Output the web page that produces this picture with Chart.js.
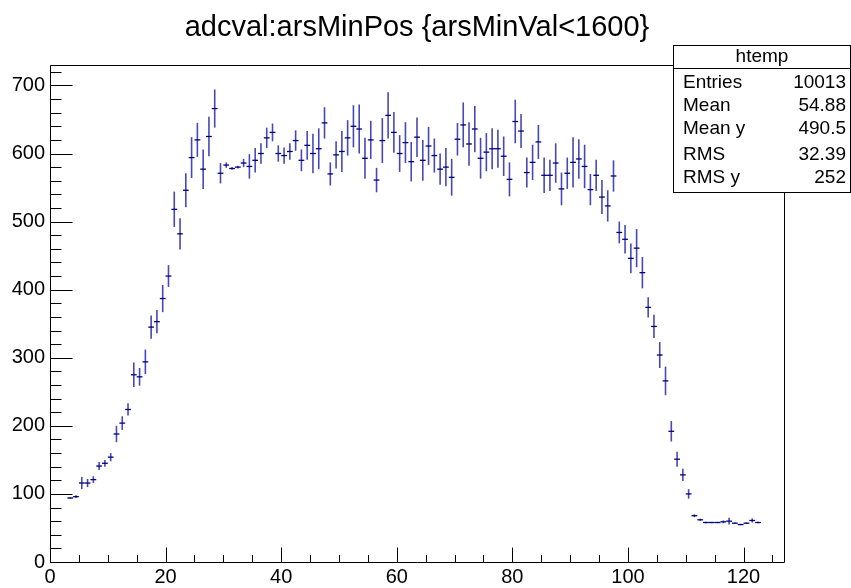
<!DOCTYPE html>
<html><head><meta charset="utf-8">
<script src="https://cdn.jsdelivr.net/npm/chart.js@4.4.1/dist/chart.umd.min.js"></script>
<style>html,body{margin:0;padding:0;background:#fff}#wrap{width:851px;height:588px;position:relative}</style>
</head><body><div id="wrap"><canvas id="c"></canvas></div>
<script>
const titleText = 'adcval:arsMinPos {arsMinVal<1600}';
const binCenters = [3.5,4.5,5.5,6.5,7.5,8.5,9.5,10.5,11.5,12.5,13.5,14.5,15.5,16.5,17.5,18.5,19.5,20.5,21.5,22.5,
23.5,24.5,25.5,26.5,27.5,28.5,29.5,30.5,31.5,32.5,33.5,34.5,35.5,36.5,37.5,38.5,39.5,40.5,41.5,42.5,
43.5,44.5,45.5,46.5,47.5,48.5,49.5,50.5,51.5,52.5,53.5,54.5,55.5,56.5,57.5,58.5,59.5,60.5,61.5,62.5,
63.5,64.5,65.5,66.5,67.5,68.5,69.5,70.5,71.5,72.5,73.5,74.5,75.5,76.5,77.5,78.5,79.5,80.5,81.5,82.5,
83.5,84.5,85.5,86.5,87.5,88.5,89.5,90.5,91.5,92.5,93.5,94.5,95.5,96.5,97.5,98.5,99.5,100.5,101.5,102.5,
103.5,104.5,105.5,106.5,107.5,108.5,109.5,110.5,111.5,112.5,113.5,114.5,115.5,116.5,117.5,118.5,119.5,120.5,121.5,122.5];
const meanValues = [94,96,116,116,121,141,145,154,188,204,224,275,272,294,345,353,387,420,518,482,
546,594,620,577,625,666,571,583,578,580,586,581,590,600,623,631,600,597,603,619,
590,612,600,607,645,570,598,603,623,640,636,593,620,561,619,656,631,600,616,588,
624,590,611,597,577,580,565,621,642,614,636,593,602,607,607,596,562,647,633,572,
587,617,568,568,586,548,571,587,592,581,547,568,536,523,567,484,474,446,461,425,
374,346,304,266,192,151,128,100,68,62,58,58,58,59,60,57,55,57,61,58];
const errValues = [1,2,9,6,5,6,5,6,12,10,9,18,13,18,17,17,20,16,26,23,
25,30,25,29,29,28,15,4,2,2,6,18,18,15,15,13,12,12,12,15,
16,21,29,30,23,17,20,30,26,31,36,30,28,18,33,34,30,27,30,29,
29,30,28,25,23,28,27,24,33,32,34,30,28,30,28,29,25,32,25,22,
26,25,26,23,29,24,23,37,29,32,23,23,25,23,23,16,21,22,28,23,
15,17,19,21,15,11,9,7,2,1.5,1,1,1,2,5,1,1,1,3,1];
const binWidth = 1;
const xRange = [0, 127];
const yRange = [0, 730];
const xMajorStep = 20, xMinorStep = 5;
const yMajorStep = 100, yMinorStep = 20;
const statsTitle = 'htemp';
const statsLabels = ['Entries','Mean','Mean y','RMS','RMS y'];
const statsValues = ['10013','54.88','490.5','32.39','252'];

const FONT = "'Liberation Sans', Arial, Helvetica, sans-serif";
Chart.defaults.font.family = FONT;
Chart.defaults.color = '#000';

const points = binCenters.map((c, i) => ({x: c, y: meanValues[i]}));

const errorBarPlugin = {
  id: 'errbars',
  beforeDatasetsDraw(chart) {
    const {ctx, chartArea: a, scales: {x, y}} = chart;
    ctx.save();
    ctx.beginPath(); ctx.rect(a.left, a.top, a.width, a.height); ctx.clip();
    ctx.strokeStyle = 'rgba(0,0,153,0.72)';
    ctx.lineWidth = 1.6;
    binCenters.forEach((c, i) => {
      const px = x.getPixelForValue(c);
      const y1 = y.getPixelForValue(meanValues[i] - errValues[i]);
      const y2 = y.getPixelForValue(meanValues[i] + errValues[i]);
      ctx.beginPath(); ctx.moveTo(px, y1); ctx.lineTo(px, y2); ctx.stroke();
    });
    ctx.restore();
  }
};

const framePlugin = {
  id: 'frame',
  afterDatasetsDraw(chart) {
    const {ctx, chartArea: a, scales: {x, y}} = chart;
    ctx.save();
    ctx.strokeStyle = '#000';
    ctx.lineWidth = 1;
    const L = Math.round(a.left) + 0.5, R = Math.round(a.right) + 0.5;
    const T = Math.round(a.top) + 0.5, B = Math.round(a.bottom) + 0.5;
    ctx.beginPath();
    ctx.rect(L, T, R - L, B - T);
    for (let v = x.min; v <= x.max + 1e-9; v += xMinorStep) {
      const px = Math.round(x.getPixelForValue(v)) + 0.5;
      const len = (v % xMajorStep === 0) ? 0.03 * a.height : 0.015 * a.height;
      ctx.moveTo(px, B); ctx.lineTo(px, B - len);
    }
    for (let v = y.min; v <= y.max + 1e-9; v += yMinorStep) {
      const py = Math.round(y.getPixelForValue(v)) + 0.5;
      const len = (v % yMajorStep === 0) ? 0.03 * a.width : 0.015 * a.width;
      ctx.moveTo(L, py); ctx.lineTo(L + len, py);
    }
    ctx.stroke();
    ctx.restore();
  }
};

const statsPlugin = {
  id: 'stats',
  afterDraw(chart) {
    const {ctx} = chart;
    const bx = 673.5, by = 45.5, bw = 177, bh = 147;
    ctx.save();
    ctx.fillStyle = '#fff';
    ctx.fillRect(bx, by, bw, bh);
    ctx.strokeStyle = '#000'; ctx.lineWidth = 1;
    ctx.strokeRect(bx, by, bw, bh);
    ctx.beginPath(); ctx.moveTo(bx, 68.5); ctx.lineTo(bx + bw, 68.5); ctx.stroke();
    ctx.fillStyle = '#000';
    ctx.font = '19px ' + FONT;
    ctx.textBaseline = 'middle';
    ctx.textAlign = 'center';
    ctx.fillText(statsTitle, bx + bw / 2, 57);
    const rows = [83, 106, 129, 155, 178];
    statsLabels.forEach((lab, i) => {
      ctx.textAlign = 'left';
      ctx.fillText(lab, 683, rows[i]);
      ctx.textAlign = 'right';
      ctx.fillText(statsValues[i], 846, rows[i]);
    });
    ctx.restore();
  }
};

new Chart(document.getElementById('c'), {
  type: 'scatter',
  data: {
    datasets: [{
      label: statsTitle,
      data: points,
      showLine: false,
      pointStyle: 'line',
      pointRadius: (c) => {
        const s = c.chart.scales.x;
        return (s.getPixelForValue(binWidth) - s.getPixelForValue(0)) / 2;
      },
      pointBorderWidth: 1.3,
      pointBorderColor: '#000080',
      pointBackgroundColor: '#000080'
    }]
  },
  options: {
    responsive: true,
    maintainAspectRatio: false,
    animation: false,
    events: [],
    layout: {padding: {left: 0, right: 67, top: 0, bottom: 0}},
    plugins: {
      legend: {display: false},
      tooltip: {enabled: false},
      title: {
        display: true,
        text: titleText,
        fullSize: false,
        color: '#000',
        font: {family: FONT, size: 29, weight: 'normal', lineHeight: 1},
        padding: {top: 13, bottom: 23}
      }
    },
    scales: {
      x: {
        type: 'linear',
        min: xRange[0], max: xRange[1],
        grid: {drawOnChartArea: false, drawTicks: false},
        border: {display: false},
        ticks: {stepSize: xMajorStep, includeBounds: false, maxRotation: 0, autoSkip: false,
                padding: 3, color: '#000', font: {size: 20, family: FONT}},
        afterFit(s) { s.height = 26; }
      },
      y: {
        type: 'linear',
        min: yRange[0], max: yRange[1],
        grid: {drawOnChartArea: false, drawTicks: false},
        border: {display: false},
        ticks: {stepSize: yMajorStep, includeBounds: false, autoSkip: false,
                padding: 5, color: '#000', font: {size: 20, family: FONT}},
        afterFit(s) { s.width = 50; }
      }
    }
  },
  plugins: [errorBarPlugin, framePlugin, statsPlugin]
});
</script>
</body></html>
